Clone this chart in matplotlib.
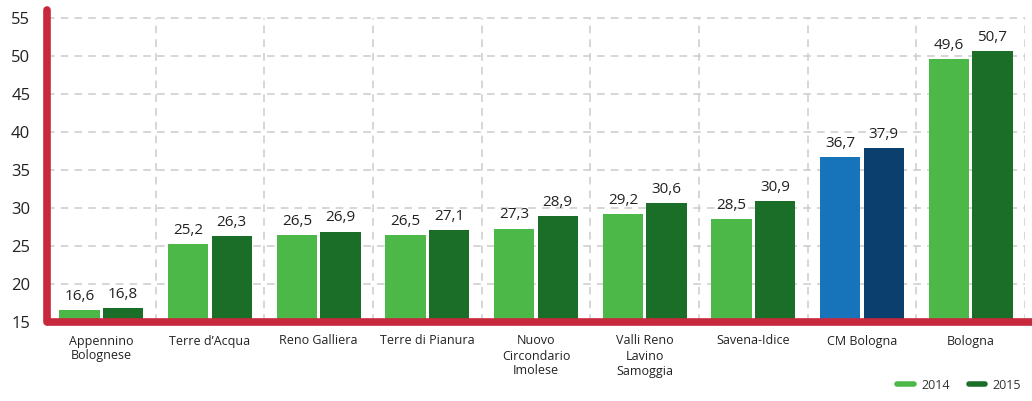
import matplotlib
matplotlib.use("Agg")
import matplotlib.pyplot as plt
import numpy as np
from matplotlib.lines import Line2D

categories = ["Appennino\nBolognese", "Terre d’Acqua", "Reno Galliera", "Terre di Pianura",
              "Nuovo\nCircondario\nImolese", "Valli Reno\nLavino\nSamoggia", "Savena-Idice",
              "CM Bologna", "Bologna"]
values_2014 = [16.6, 25.2, 26.5, 26.5, 27.3, 29.2, 28.5, 36.7, 49.6]
values_2015 = [16.8, 26.3, 26.9, 27.1, 28.9, 30.6, 30.9, 37.9, 50.7]
series_labels = ["2014", "2015"]
yticks = [15, 20, 25, 30, 35, 40, 45, 50, 55]

c14, c15 = "#4cb848", "#1a6e28"
cm14, cm15 = "#1874ba", "#0b3f6e"
red = "#c8283c"

plt.rcParams['font.family'] = ['Open Sans', 'DejaVu Sans']

fig = plt.figure(figsize=(10.32, 4.01), dpi=100)
ax = fig.add_axes([47/1032, 1-322/401, (1025-47)/1032, (322-10)/401])

x = np.arange(len(categories))
w = 0.37
off = 0.2
cols14 = [cm14 if c == "CM Bologna" else c14 for c in categories]
cols15 = [cm15 if c == "CM Bologna" else c15 for c in categories]
ax.bar(x - off, [v - 15 for v in values_2014], w, bottom=15, color=cols14, zorder=3)
ax.bar(x + off, [v - 15 for v in values_2015], w, bottom=15, color=cols15, zorder=3)

for xi, v in zip(x - off, values_2014):
    ax.text(xi, v + 0.8, f"{v:.1f}".replace(".", ","), ha="center", va="bottom",
            fontsize=11, color="#222222")
for xi, v in zip(x + off, values_2015):
    ax.text(xi, v + 0.8, f"{v:.1f}".replace(".", ","), ha="center", va="bottom",
            fontsize=11, color="#222222")

ax.set_xlim(-0.5, len(categories) - 0.5)
ax.set_ylim(15, 56.05)
ax.set_yticks(yticks)
ax.set_yticklabels([str(t) for t in yticks], fontsize=12, color="#222222")
ax.set_xticks(x)
ax.set_xticklabels(categories, fontsize=9, color="#222222", linespacing=1.2, va="top")
ax.tick_params(axis="both", length=0)
ax.tick_params(axis="x", pad=9)
ax.tick_params(axis="y", pad=12)

for t in yticks[1:]:
    ax.plot([-0.5, len(categories) - 0.5], [t, t], color="#cccccc", lw=1.1,
            ls=(0, (5, 4)), zorder=1)
for b in np.arange(-0.5, len(categories)) + 1:
    ax.plot([b, b], [15, 55], color="#cccccc", lw=1.1, ls=(0, (5, 4)), zorder=1)

for s in ["top", "right", "left", "bottom"]:
    ax.spines[s].set_visible(False)
ax.plot([-0.5, -0.5], [15, 56.05], color=red, lw=5.5, solid_capstyle="round",
        zorder=5, clip_on=False)
ax.plot([-0.5, 8.58], [15, 15], color=red, lw=5.5, solid_capstyle="butt",
        zorder=5, clip_on=False)

handles = [Line2D([0], [0], color=c14, lw=4, solid_capstyle="round"),
           Line2D([0], [0], color=c15, lw=4, solid_capstyle="round")]
fig.legend(handles, series_labels, loc="lower right", bbox_to_anchor=(1.0, -0.005),
           ncol=2, frameon=False, fontsize=9, handlelength=1.3, columnspacing=1.5,
           handletextpad=0.6, labelcolor="#333333")

fig.savefig("out.png", dpi=100)
